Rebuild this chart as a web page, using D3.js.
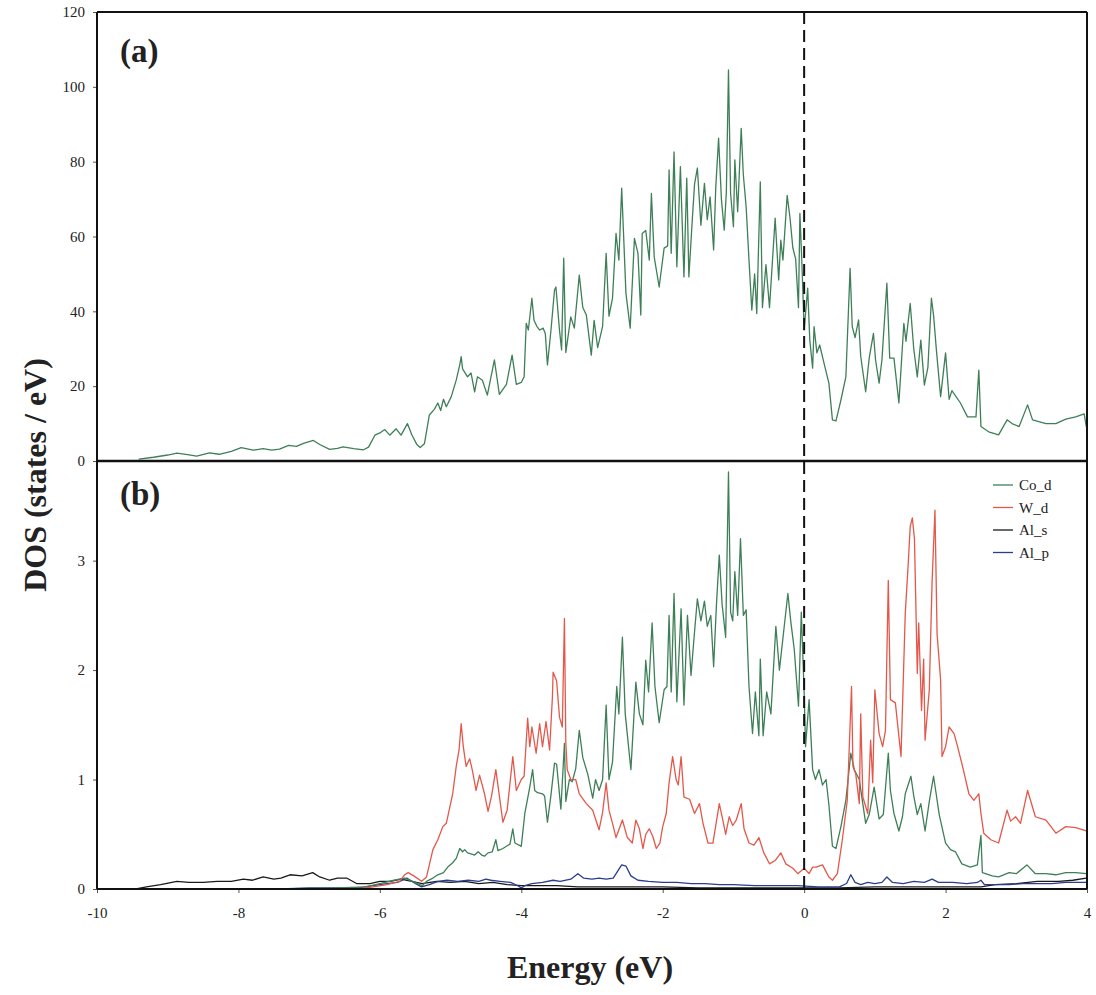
<!DOCTYPE html>
<html><head><meta charset="utf-8">
<script src="https://cdn.jsdelivr.net/npm/d3@7"></script>
<style>body{margin:0;background:#fff}svg{display:block}</style>
</head><body>
<svg id="c" width="1096" height="995"></svg>
<script>
const xTicks = [-10,-8,-6,-4,-2,0,2,4];
const topTicks = [0,20,40,60,80,100,120];
const bottomTicks = [0,1,2,3];

const totalDOS = [[-9.41,0.5],[-9.2,1.0],[-9.0,1.6],[-8.87,2.1],[-8.72,1.7],[-8.59,1.3],[-8.41,2.2],[-8.27,1.8],[-8.1,2.6],[-7.96,3.6],[-7.79,2.9],[-7.65,3.3],[-7.53,2.9],[-7.42,3.2],[-7.29,4.2],[-7.18,3.9],[-7.07,4.8],[-6.94,5.5],[-6.85,4.4],[-6.71,3.1],[-6.6,3.4],[-6.52,3.8],[-6.37,3.3],[-6.23,3.0],[-6.16,3.7],[-6.07,6.9],[-6.0,7.5],[-5.93,8.4],[-5.86,6.9],[-5.77,8.6],[-5.7,6.9],[-5.61,10.0],[-5.55,7.1],[-5.48,4.5],[-5.43,3.6],[-5.37,4.6],[-5.3,12.3],[-5.23,13.8],
[-5.18,15.5],[-5.14,13.5],[-5.10,16.5],[-5.06,14.5],[-4.99,17.2],[-4.92,21.6],[-4.87,25.7],[-4.85,27.9],[-4.83,24.6],[-4.76,22.5],[-4.71,23.5],[-4.66,18.5],[-4.62,22.5],[-4.55,21.6],[-4.48,17.6],[-4.38,27.0],[-4.31,17.8],[-4.21,20.5],[-4.13,28.3],[-4.07,20.5],[-4.0,21.0],[-3.96,22.5],[-3.93,36.8],[-3.9,35],[-3.85,43.5],[-3.82,37.6],[-3.78,36],[-3.74,35],[-3.69,35.5],[-3.66,34],[-3.63,25.7],[-3.58,35],[-3.53,45.7],[-3.51,46.5],[-3.46,35],[-3.43,29.7],[-3.40,54.2],[-3.37,29],[-3.30,38.5],[-3.25,35.5],[-3.18,49.7],[-3.13,41],[-3.08,39],[-3.01,28.3],[-2.97,37.6],[-2.92,30.3],[-2.85,36],[-2.80,55.5],[-2.76,38.7],[-2.71,43.5],[-2.66,60.8],[-2.62,53.7],[-2.58,72.9],[-2.52,44.8],[-2.46,35.5],[-2.40,59.5],[-2.35,55.5],[-2.31,39],[-2.29,60.8],[-2.24,61.6],[-2.19,53.7],[-2.16,71.5],[-2.12,54.5],[-2.05,46.5],[-1.98,56.9],[-1.93,57.5],[-1.91,77.8],[-1.88,55.5],[-1.84,82.6],[-1.80,51.9],[-1.75,78.7],[-1.70,49.2],[-1.66,75.6],[-1.63,49.2],[-1.58,65],[-1.55,74],[-1.51,78.3],[-1.46,63],[-1.41,74.2],[-1.37,64.5],[-1.33,70.6],[-1.28,56.4],[-1.25,73],[-1.21,86.3],[-1.17,70],[-1.13,61.7],[-1.10,72],[-1.07,104.5],[-1.04,71.5],[-1.00,62.6],[-0.98,80.5],[-0.94,66.6],[-0.89,88.9],[-0.86,76.5],[-0.82,67.9],[-0.78,53.7],[-0.74,40.3],[-0.70,50],[-0.67,39.4],[-0.62,74.6],[-0.59,41],[-0.54,52.5],[-0.49,41],[-0.41,64.9],[-0.36,48.4],[-0.33,59],[-0.30,53.7],[-0.24,71],[-0.2,65],[-0.16,57],[-0.12,54],[-0.08,41],[-0.06,66.2],[-0.03,52],[0.0,35],[0.05,46.2],[0.08,32.3],[0.12,24.8],[0.14,35.9],[0.18,28.9],[0.22,31],[0.28,26.2],[0.35,20.8],[0.40,11],[0.45,10.7],[0.52,16.3],[0.59,22.5],[0.65,51.5],[0.68,35.9],[0.72,33],[0.77,37.7],[0.80,28],[0.87,18.5],[0.92,27.5],[0.98,34.1],[1.01,27],[1.06,20.8],[1.10,27],[1.17,47.5],[1.21,27.5],[1.27,27.5],[1.34,15.5],[1.41,36.8],[1.44,32],[1.50,42.1],[1.55,30],[1.60,22.5],[1.65,32.3],[1.70,20.3],[1.75,25],[1.80,43.5],[1.83,39],[1.87,29.7],[1.93,17.2],[2.00,28.9],[2.05,16.5],[2.09,18.8],[2.21,15.5],[2.31,11.8],[2.43,11.8],[2.47,24.3],[2.50,9.2],[2.61,7.8],[2.75,7.0],[2.87,11],[2.94,10],[3.04,9.2],[3.16,15],[3.23,11],[3.42,10],[3.56,10],[3.70,11.2],[3.84,11.8],[3.96,12.6],[3.99,9.2]];

const coD = [[-7.4,0.0],[-6.6,0.01],[-6.2,0.02],[-6.0,0.05],[-5.8,0.08],[-5.65,0.1],[-5.5,0.06],[-5.4,0.03],[-5.34,0.07],[-5.25,0.1],[-5.18,0.13],[-5.1,0.15],[-5.04,0.2],[-4.97,0.24],[-4.92,0.28],[-4.87,0.37],[-4.83,0.34],[-4.8,0.36],[-4.76,0.33],[-4.71,0.32],[-4.66,0.31],[-4.61,0.34],[-4.56,0.31],[-4.52,0.3],[-4.47,0.33],[-4.41,0.34],[-4.36,0.45],[-4.33,0.35],[-4.26,0.37],[-4.21,0.39],[-4.16,0.41],[-4.12,0.55],[-4.09,0.42],[-4.0,0.39],[-3.95,0.69],[-3.88,0.93],[-3.84,1.09],[-3.81,0.9],[-3.77,0.88],[-3.7,0.87],[-3.67,0.85],[-3.63,0.61],[-3.58,0.86],[-3.53,1.15],[-3.5,1.14],[-3.44,0.73],[-3.39,1.33],[-3.37,0.8],[-3.32,1.0],[-3.28,0.98],[-3.23,1.1],[-3.18,1.45],[-3.13,1.2],[-3.06,1.05],[-2.99,0.83],[-2.95,1.0],[-2.9,0.9],[-2.85,1.0],[-2.80,1.68],[-2.76,1.0],[-2.71,1.16],[-2.65,1.85],[-2.62,1.6],[-2.57,2.3],[-2.53,1.6],[-2.45,1.09],[-2.38,1.89],[-2.33,1.6],[-2.28,1.5],[-2.24,2.09],[-2.2,1.8],[-2.15,2.43],[-2.11,1.85],[-2.05,1.52],[-1.98,1.82],[-1.94,1.85],[-1.91,2.5],[-1.88,1.8],[-1.84,2.7],[-1.80,1.71],[-1.74,2.56],[-1.70,1.68],[-1.65,2.5],[-1.6,1.95],[-1.55,2.35],[-1.51,2.65],[-1.46,2.45],[-1.41,2.63],[-1.37,2.4],[-1.32,2.5],[-1.28,2.03],[-1.24,2.6],[-1.20,3.05],[-1.16,2.6],[-1.11,2.3],[-1.07,3.81],[-1.04,2.53],[-1.01,2.45],[-0.98,2.9],[-0.94,2.5],[-0.90,3.2],[-0.86,2.5],[-0.82,2.55],[-0.78,1.85],[-0.73,1.42],[-0.69,1.8],[-0.64,1.4],[-0.62,2.1],[-0.58,1.4],[-0.53,1.8],[-0.47,1.6],[-0.40,2.4],[-0.35,2.0],[-0.29,2.35],[-0.23,2.7],[-0.19,2.45],[-0.14,2.19],[-0.08,1.67],[-0.04,2.53],[0.0,1.79],[0.02,1.3],[0.07,1.73],[0.12,1.09],[0.16,1.0],[0.21,1.09],[0.26,0.95],[0.31,1.0],[0.35,0.77],[0.40,0.39],[0.45,0.37],[0.52,0.57],[0.59,0.81],[0.66,1.24],[0.71,1.09],[0.78,1.0],[0.87,0.6],[0.92,0.68],[0.99,0.93],[1.06,0.64],[1.12,0.68],[1.19,1.24],[1.22,0.9],[1.27,0.69],[1.34,0.53],[1.39,0.66],[1.43,0.87],[1.51,1.03],[1.55,0.85],[1.60,0.68],[1.65,0.78],[1.71,0.53],[1.77,0.8],[1.83,1.03],[1.86,0.9],[1.91,0.68],[2.00,0.42],[2.07,0.36],[2.14,0.34],[2.23,0.23],[2.35,0.2],[2.45,0.22],[2.50,0.49],[2.52,0.15],[2.66,0.12],[2.75,0.11],[2.9,0.15],[3.0,0.14],[3.15,0.22],[3.27,0.14],[3.42,0.14],[3.56,0.13],[3.7,0.15],[3.84,0.15],[3.99,0.14]];

const wD = [[-6.3,0.0],[-6.1,0.02],[-5.9,0.04],[-5.72,0.07],[-5.65,0.13],[-5.60,0.15],[-5.52,0.12],[-5.41,0.07],[-5.34,0.11],[-5.25,0.36],[-5.18,0.45],[-5.11,0.57],[-5.06,0.6],[-5.01,0.75],[-4.97,0.87],[-4.92,1.12],[-4.88,1.27],[-4.85,1.51],[-4.82,1.3],[-4.78,1.12],[-4.73,1.19],[-4.69,1.08],[-4.64,0.9],[-4.59,1.04],[-4.52,0.87],[-4.47,0.71],[-4.42,0.85],[-4.36,1.09],[-4.31,0.85],[-4.26,0.61],[-4.2,0.72],[-4.12,1.21],[-4.07,0.9],[-4.0,1.0],[-3.96,1.03],[-3.91,1.56],[-3.88,1.3],[-3.85,1.48],[-3.79,1.24],[-3.74,1.51],[-3.70,1.3],[-3.65,1.53],[-3.60,1.27],[-3.56,1.75],[-3.55,1.98],[-3.50,1.9],[-3.46,1.57],[-3.42,1.48],[-3.39,2.47],[-3.37,1.33],[-3.35,1.09],[-3.30,1.0],[-3.23,1.0],[-3.18,0.87],[-3.08,0.78],[-2.99,0.72],[-2.90,0.54],[-2.85,0.7],[-2.80,0.97],[-2.76,0.72],[-2.71,0.6],[-2.66,0.47],[-2.57,0.63],[-2.50,0.47],[-2.43,0.42],[-2.38,0.63],[-2.33,0.55],[-2.28,0.37],[-2.24,0.5],[-2.19,0.55],[-2.14,0.48],[-2.09,0.37],[-2.04,0.42],[-2.00,0.57],[-1.95,0.69],[-1.91,0.97],[-1.86,1.21],[-1.81,1.0],[-1.78,0.95],[-1.74,1.21],[-1.70,0.84],[-1.62,0.82],[-1.55,0.69],[-1.48,0.78],[-1.43,0.6],[-1.36,0.42],[-1.29,0.42],[-1.20,0.78],[-1.15,0.63],[-1.11,0.5],[-1.06,0.66],[-1.01,0.58],[-0.96,0.63],[-0.89,0.78],[-0.85,0.55],[-0.78,0.42],[-0.71,0.4],[-0.64,0.47],[-0.57,0.33],[-0.49,0.23],[-0.41,0.26],[-0.33,0.33],[-0.26,0.23],[-0.16,0.19],[-0.09,0.14],[0.0,0.19],[0.07,0.14],[0.12,0.2],[0.17,0.2],[0.26,0.22],[0.3,0.17],[0.35,0.11],[0.40,0.08],[0.47,0.14],[0.54,0.45],[0.61,0.81],[0.67,1.85],[0.69,1.12],[0.73,1.05],[0.78,0.78],[0.80,1.6],[0.83,0.84],[0.90,0.69],[0.94,1.36],[0.97,0.97],[1.00,1.82],[1.06,1.42],[1.11,1.3],[1.15,1.45],[1.19,2.82],[1.22,1.73],[1.29,1.7],[1.37,1.21],[1.43,2.52],[1.47,2.95],[1.50,3.31],[1.53,3.39],[1.56,3.2],[1.60,1.97],[1.62,2.43],[1.66,1.63],[1.69,2.1],[1.71,1.36],[1.77,1.82],[1.81,2.82],[1.85,3.46],[1.88,2.33],[1.93,1.91],[1.95,1.21],[2.0,1.3],[2.05,1.48],[2.12,1.42],[2.17,1.3],[2.24,1.12],[2.33,0.87],[2.40,0.81],[2.47,0.87],[2.50,0.69],[2.54,0.51],[2.64,0.45],[2.75,0.42],[2.87,0.72],[2.92,0.62],[2.99,0.66],[3.06,0.6],[3.16,0.9],[3.27,0.66],[3.42,0.63],[3.56,0.51],[3.70,0.57],[3.84,0.56],[3.99,0.53]];

const alS = [[-9.45,0.0],[-9.3,0.02],[-9.1,0.04],[-8.87,0.07],[-8.7,0.06],[-8.5,0.06],[-8.3,0.07],[-8.1,0.07],[-7.93,0.09],[-7.8,0.08],[-7.65,0.11],[-7.5,0.09],[-7.4,0.1],[-7.27,0.13],[-7.1,0.12],[-6.95,0.15],[-6.85,0.11],[-6.71,0.08],[-6.6,0.1],[-6.47,0.1],[-6.33,0.05],[-6.14,0.05],[-6.0,0.07],[-5.85,0.07],[-5.7,0.09],[-5.55,0.07],[-5.4,0.05],[-5.2,0.07],[-5.0,0.06],[-4.8,0.07],[-4.6,0.05],[-4.4,0.06],[-4.2,0.04],[-4.0,0.03],[-3.8,0.03],[-3.5,0.03],[-3.2,0.02],[-2.8,0.02],[-2.4,0.02],[-2.0,0.02],[-1.5,0.01],[-1.0,0.01],[-0.5,0.01],[0.0,0.01],[0.5,0.01],[1.0,0.02],[1.5,0.02],[2.0,0.02],[2.5,0.02],[2.7,0.04],[3.0,0.05],[3.3,0.07],[3.6,0.07],[3.8,0.08],[3.99,0.1]];

const alP = [[-7.4,0.0],[-7.0,0.01],[-6.6,0.01],[-6.3,0.01],[-6.1,0.03],[-5.9,0.05],[-5.75,0.06],[-5.62,0.1],[-5.5,0.05],[-5.41,0.02],[-5.3,0.04],[-5.18,0.07],[-5.05,0.08],[-4.9,0.07],[-4.75,0.08],[-4.6,0.07],[-4.5,0.09],[-4.43,0.08],[-4.3,0.07],[-4.15,0.06],[-4.05,0.03],[-4.0,0.01],[-3.95,0.03],[-3.85,0.05],[-3.7,0.06],[-3.55,0.08],[-3.45,0.07],[-3.3,0.09],[-3.2,0.14],[-3.12,0.1],[-3.0,0.09],[-2.9,0.1],[-2.8,0.09],[-2.7,0.1],[-2.63,0.17],[-2.58,0.22],[-2.52,0.21],[-2.45,0.12],[-2.35,0.08],[-2.2,0.07],[-2.0,0.06],[-1.8,0.06],[-1.6,0.05],[-1.4,0.05],[-1.2,0.04],[-1.0,0.04],[-0.7,0.03],[-0.4,0.03],[-0.1,0.03],[0.2,0.02],[0.5,0.02],[0.6,0.05],[0.66,0.13],[0.72,0.06],[0.8,0.04],[0.9,0.06],[1.0,0.05],[1.1,0.06],[1.17,0.11],[1.25,0.06],[1.4,0.05],[1.55,0.07],[1.7,0.06],[1.81,0.09],[1.9,0.06],[2.1,0.06],[2.3,0.05],[2.45,0.06],[2.5,0.08],[2.55,0.04],[2.7,0.04],[2.9,0.04],[3.1,0.05],[3.3,0.05],[3.5,0.05],[3.7,0.06],[3.9,0.06],[3.99,0.06]];

const seriesNames = ["Co_d","W_d","Al_s","Al_p"];
const seriesData = [coD, wD, alS, alP];
const seriesColors = ["#3f7f58","#e3584b","#1a1a1a","#2b3d8c"];
const totalColor = "#3f7f58";

const FONT = "'Liberation Serif','Times New Roman',serif";
const svg = d3.select("#c");
const L = 97, R = 1087, T = 12, MID = 461, B = 889;
const x = d3.scaleLinear().domain([-10,4]).range([L,R]);
const yTop = d3.scaleLinear().domain([0,120]).range([MID,T]);
const yBot = d3.scaleLinear().domain([0,3.91]).range([B,MID]);

const defs = svg.append("defs");
defs.append("clipPath").attr("id","clipTop").append("rect").attr("x",L).attr("y",T).attr("width",R-L).attr("height",MID-T);
defs.append("clipPath").attr("id","clipBot").append("rect").attr("x",L).attr("y",MID).attr("width",R-L).attr("height",B-MID);

// axes
function styleAxis(g){
  g.select(".domain").remove();
  g.selectAll("text").attr("font-family",FONT).attr("font-size",15).attr("fill","#222");
  g.selectAll("line").attr("stroke","#555").attr("stroke-width",1);
}
svg.append("g").attr("transform",`translate(${L},0)`)
  .call(d3.axisLeft(yTop).tickValues(topTicks).tickSize(4).tickPadding(8).tickFormat(d=>String(d)))
  .call(styleAxis);
svg.append("g").attr("transform",`translate(${L},0)`)
  .call(d3.axisLeft(yBot).tickValues(bottomTicks).tickSize(4).tickPadding(8).tickFormat(d=>String(d)))
  .call(styleAxis);
svg.append("g").attr("transform",`translate(0,${B})`)
  .call(d3.axisBottom(x).tickValues(xTicks).tickSize(4).tickPadding(14).tickFormat(d=>String(d)))
  .call(styleAxis);

// lines
const lineTop = d3.line().x(d=>x(d[0])).y(d=>yTop(d[1]));
const lineBot = d3.line().x(d=>x(d[0])).y(d=>yBot(d[1]));

svg.append("g").attr("clip-path","url(#clipTop)")
  .append("path").datum(totalDOS).attr("d",lineTop)
  .attr("fill","none").attr("stroke",totalColor).attr("stroke-width",1.3).attr("stroke-linejoin","round");

const gb = svg.append("g").attr("clip-path","url(#clipBot)");
const order = [2,3,0,1];
order.forEach(i=>{
  gb.append("path").datum(seriesData[i]).attr("d",lineBot)
    .attr("fill","none").attr("stroke",seriesColors[i]).attr("stroke-width",1.3).attr("stroke-linejoin","round");
});

// frame
const frame = svg.append("g").attr("stroke","#111").attr("fill","none");
frame.append("line").attr("x1",L).attr("x2",L).attr("y1",T).attr("y2",B).attr("stroke-width",2);
frame.append("line").attr("x1",L).attr("x2",R).attr("y1",T).attr("y2",T).attr("stroke-width",2);
frame.append("line").attr("x1",R).attr("x2",R).attr("y1",T).attr("y2",B).attr("stroke-width",2);
frame.append("line").attr("x1",L).attr("x2",R).attr("y1",MID).attr("y2",MID).attr("stroke-width",2.5);
frame.append("line").attr("x1",L).attr("x2",R).attr("y1",B).attr("y2",B).attr("stroke-width",1.8);

// Fermi level
svg.append("line").attr("x1",x(0)).attr("x2",x(0)).attr("y1",T).attr("y2",B+4)
  .attr("stroke","#111").attr("stroke-width",2).attr("stroke-dasharray","12,6");

// panel labels
svg.append("text").attr("x",120).attr("y",62).text("(a)")
  .attr("font-family",FONT).attr("font-weight","bold").attr("font-size",33).attr("fill","#222");
svg.append("text").attr("x",120).attr("y",505).text("(b)")
  .attr("font-family",FONT).attr("font-weight","bold").attr("font-size",33).attr("fill","#222");

// legend
const lg = svg.append("g");
seriesNames.forEach((n,i)=>{
  const yy = 485 + i*22.5;
  lg.append("line").attr("x1",993).attr("x2",1013).attr("y1",yy).attr("y2",yy)
    .attr("stroke",seriesColors[i]).attr("stroke-width",1.3);
  lg.append("text").attr("x",1019).attr("y",yy).attr("dy","0.35em").text(n)
    .attr("font-family",FONT).attr("font-size",15).attr("fill","#222");
});

// axis titles
svg.append("text").attr("x",590).attr("y",978).attr("text-anchor","middle").text("Energy (eV)")
  .attr("font-family",FONT).attr("font-weight","bold").attr("font-size",32).attr("fill","#222");
svg.append("text").attr("transform","translate(46,475) rotate(-90)").attr("text-anchor","middle").text("DOS (states / eV)")
  .attr("font-family",FONT).attr("font-weight","bold").attr("font-size",32).attr("fill","#222");
</script>
</body></html>
